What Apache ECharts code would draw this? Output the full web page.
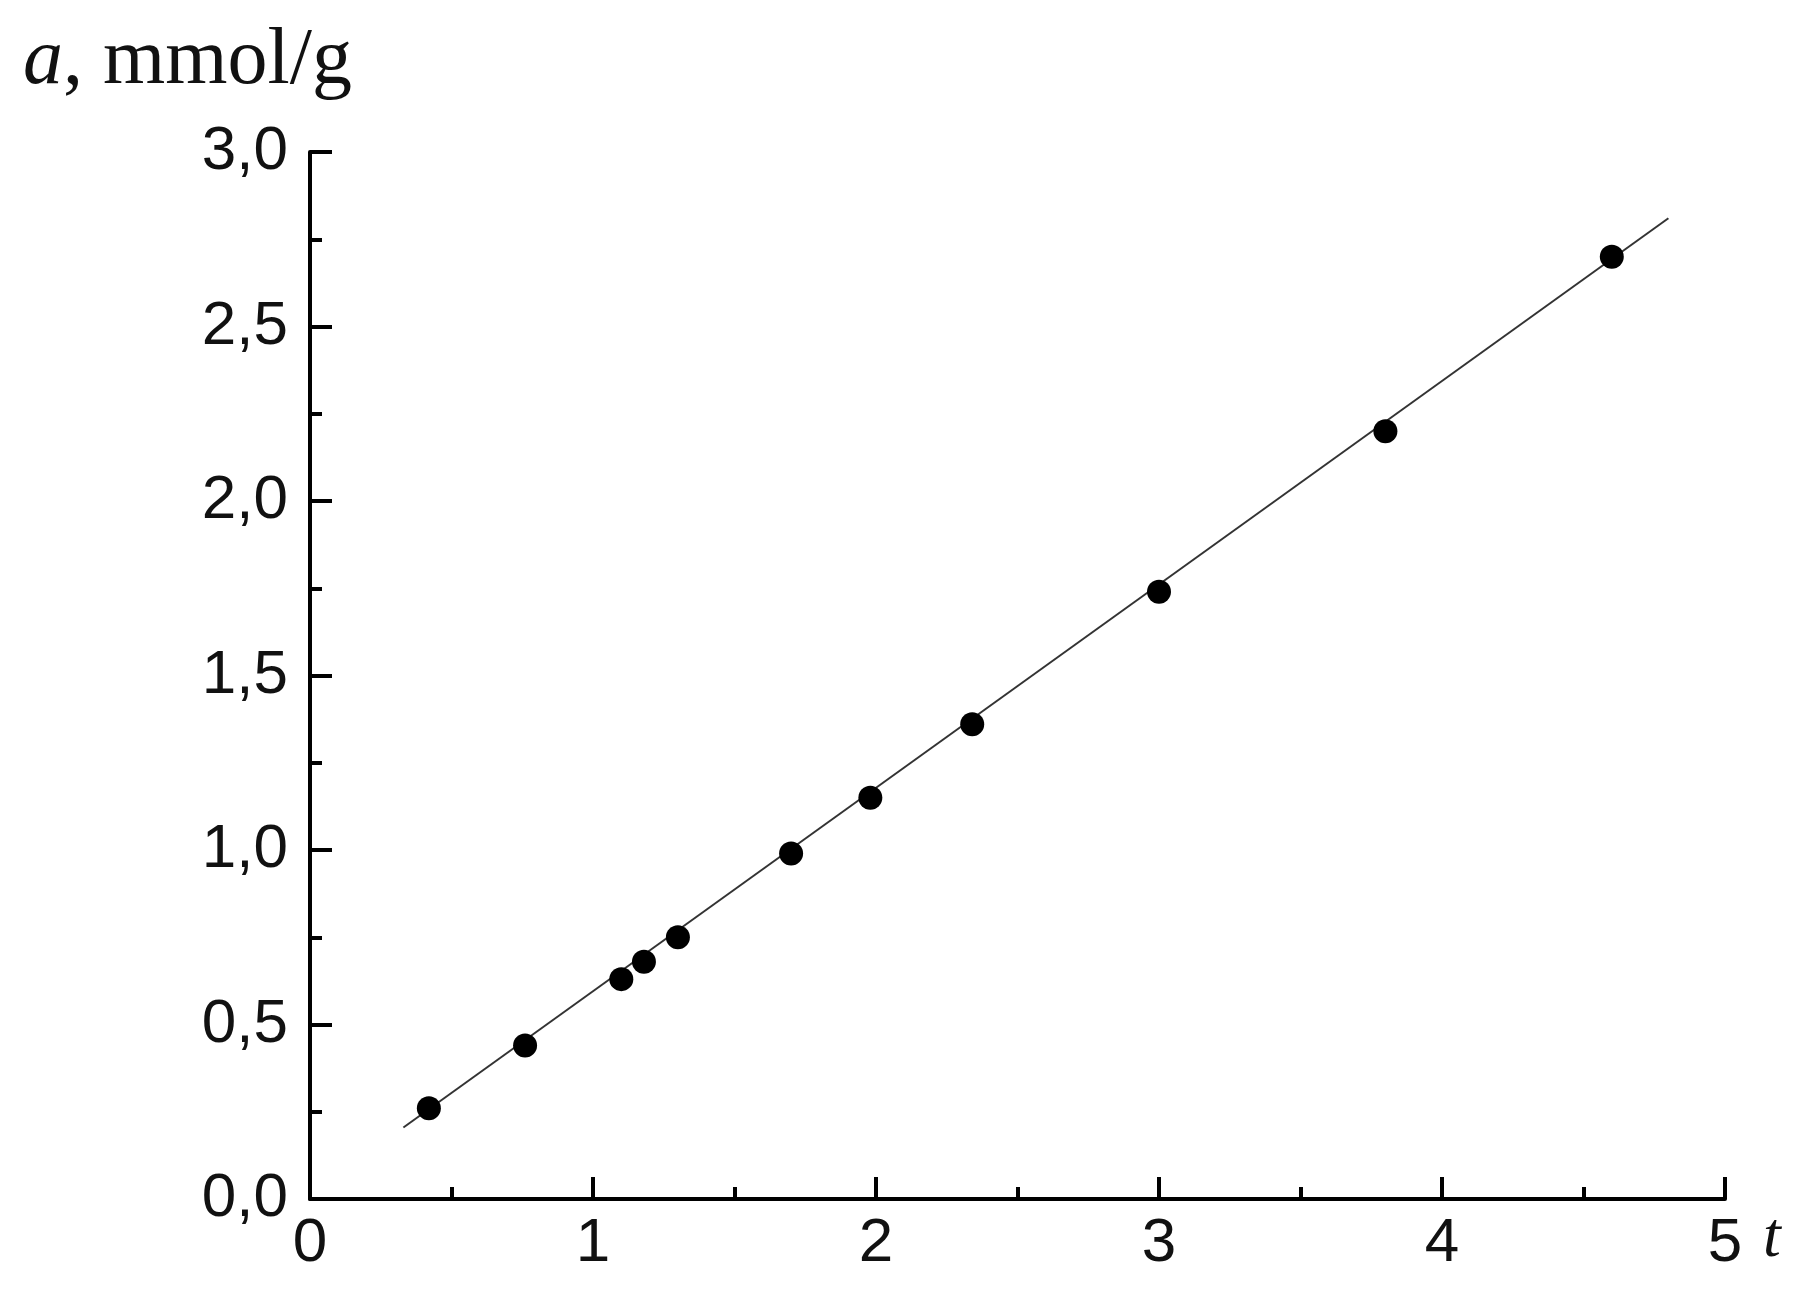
<!DOCTYPE html>
<html>
<head>
<meta charset="utf-8">
<script src="https://cdn.jsdelivr.net/npm/echarts@6/dist/echarts.min.js"></script>
<style>
html, body { margin: 0; padding: 0; background: #fff; }
#main { width: 1816px; height: 1308px; }
</style>
</head>
<body>
<div id="main"></div>
<script>
// measured points
var tValues = [0.42, 0.76, 1.10, 1.18, 1.30, 1.70, 1.98, 2.34, 3.00, 3.80, 4.60];
var aValues = [0.26, 0.44, 0.63, 0.68, 0.75, 0.99, 1.15, 1.36, 1.74, 2.20, 2.70];
// fitted straight line, its two end points
var fitT = [0.33, 4.80];
var fitA = [0.205, 2.81];

var xTicks = [0, 1, 2, 3, 4, 5];
var yTicks = [0, 0.5, 1, 1.5, 2, 2.5, 3];

var points = tValues.map(function (t, i) { return [t, aValues[i]]; });
var fitLine = fitT.map(function (t, i) { return [t, fitA[i]]; });

var labelFont = 'Liberation Sans, Arial, sans-serif';
var serifFont = 'Liberation Serif, Times New Roman, serif';

var chart = echarts.init(document.getElementById('main'));
chart.setOption({
  animation: false,
  backgroundColor: '#fff',
  title: {
    text: '{i|a}{r|, mmol/g}',
    left: 18,
    top: 17,
    textStyle: {
      fontWeight: 'normal',
      rich: {
        i: { fontFamily: serifFont, fontStyle: 'italic', fontWeight: 'normal', fontSize: 80, color: '#111' },
        r: { fontFamily: serifFont, fontWeight: 'normal', fontSize: 80, color: '#111' }
      }
    }
  },
  grid: { left: 310, right: 91, top: 152, bottom: 109 },
  xAxis: {
    type: 'value',
    min: xTicks[0],
    max: xTicks[xTicks.length - 1],
    interval: 1,
    name: 't',
    nameLocation: 'end',
    nameGap: 38,
    nameTextStyle: {
      fontFamily: serifFont, fontStyle: 'italic', fontSize: 64, color: '#111',
      verticalAlign: 'top', padding: [8, 0, 0, 0]
    },
    axisLine: { lineStyle: { color: '#000', width: 4 } },
    axisTick: { inside: true, length: 22, lineStyle: { color: '#000', width: 4 } },
    minorTick: { show: true, splitNumber: 2, length: 12, lineStyle: { color: '#000', width: 4 } },
    splitLine: { show: false },
    axisLabel: { fontFamily: labelFont, fontSize: 62, color: '#111', margin: 14 }
  },
  yAxis: {
    type: 'value',
    min: yTicks[0],
    max: yTicks[yTicks.length - 1],
    interval: 0.5,
    axisLine: { lineStyle: { color: '#000', width: 4 } },
    axisTick: { inside: true, length: 22, lineStyle: { color: '#000', width: 4 } },
    minorTick: { show: true, splitNumber: 2, length: 12, lineStyle: { color: '#000', width: 4 } },
    splitLine: { show: false },
    axisLabel: {
      fontFamily: labelFont, fontSize: 62, color: '#111', margin: 22,
      formatter: function (v) { return v.toFixed(1).replace('.', ','); }
    }
  },
  series: [
    {
      type: 'line',
      data: fitLine,
      showSymbol: false,
      lineStyle: { color: '#333', width: 2 },
      z: 2
    },
    {
      type: 'scatter',
      data: points,
      symbol: 'circle',
      symbolSize: 24,
      itemStyle: { color: '#000', opacity: 1 },
      z: 3
    }
  ]
});
</script>
</body>
</html>
